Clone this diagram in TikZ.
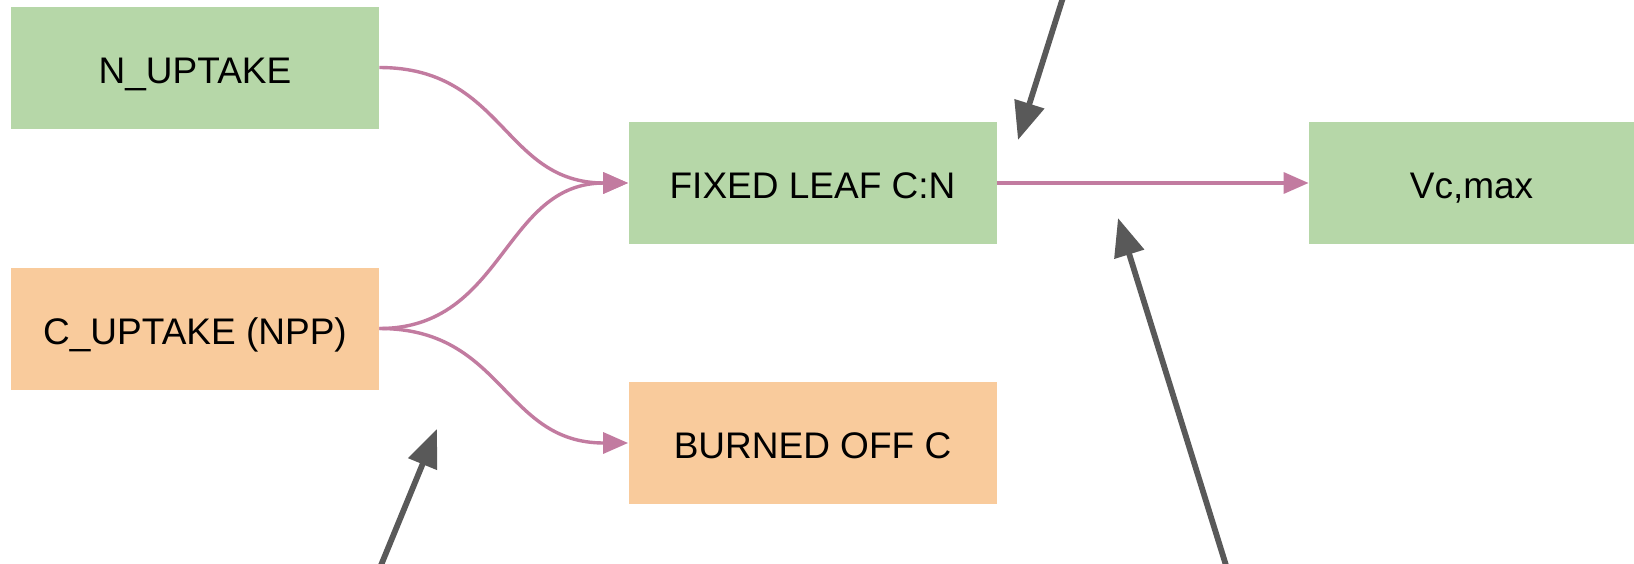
\documentclass[tikz,border=0pt]{standalone}
\usepackage{fontspec}
\setmainfont{Liberation Sans}
\usetikzlibrary{arrows.meta}

\definecolor{boxgreen}{HTML}{B6D7A8}
\definecolor{boxorange}{HTML}{F9CB9C}
\definecolor{flowpink}{HTML}{C27BA0}
\definecolor{pointgray}{HTML}{595959}

\tikzset{
  stockbox/.style={rectangle, inner sep=0pt, minimum width=184pt, minimum height=61pt,
    font=\fontsize{18.5pt}{22pt}\selectfont, text=black,
    text height=16pt, text depth=0.3pt},
  greenbox/.style={stockbox, fill=boxgreen},
  orangebox/.style={stockbox, fill=boxorange},
  flow/.style={draw=flowpink, line width=1.7pt,
    -{Triangle[length=12.5pt, width=10.5pt]}},
  pointer/.style={draw=pointgray, line width=2.9pt,
    -{Triangle[length=19pt, width=15pt]}},
}

\begin{document}
\begin{tikzpicture}[x=0.5pt, y=-0.5pt]
  \clip (0,0) rectangle (1634,563);
  \fill[white] (0,0) rectangle (1634,563);

  % boxes
  \node[greenbox]  (nup)   at (195,67.5)   {N\_UPTAKE};
  \node[orangebox] (cup)   at (195,328.5)  {C\_UPTAKE (NPP)};
  \node[greenbox]  (fixed) at (812.5,183)  {FIXED LEAF C:N};
  \node[orangebox] (burn)  at (812.5,443)  {BURNED OFF C};
  \node[greenbox, minimum width=162.5pt] (vc) at (1471.5,183) {Vc,max};

  % flows
  \draw[flow] (nup.east) .. controls +(125,0) and +(-125,0) .. (fixed.west);
  \draw[flow] (cup.east) .. controls +(125,0) and +(-125,0) .. (fixed.west);
  \draw[flow] (cup.east) .. controls +(125,0) and +(-125,0) .. (burn.west);
  \draw[flow] (fixed.east) -- (vc.west);

  % pointers coming in from outside the frame
  \coordinate (pa) at (1066,-12);
  \coordinate (pa tip) at (1018,140);
  \coordinate (pb) at (1229,575);
  \coordinate (pb tip) at (1118,218);
  \coordinate (pc) at (377,575);
  \coordinate (pc tip) at (437,429);
  \draw[pointer] (pa) -- (pa tip);
  \draw[pointer] (pb) -- (pb tip);
  \draw[pointer] (pc) -- (pc tip);
\end{tikzpicture}
\end{document}
